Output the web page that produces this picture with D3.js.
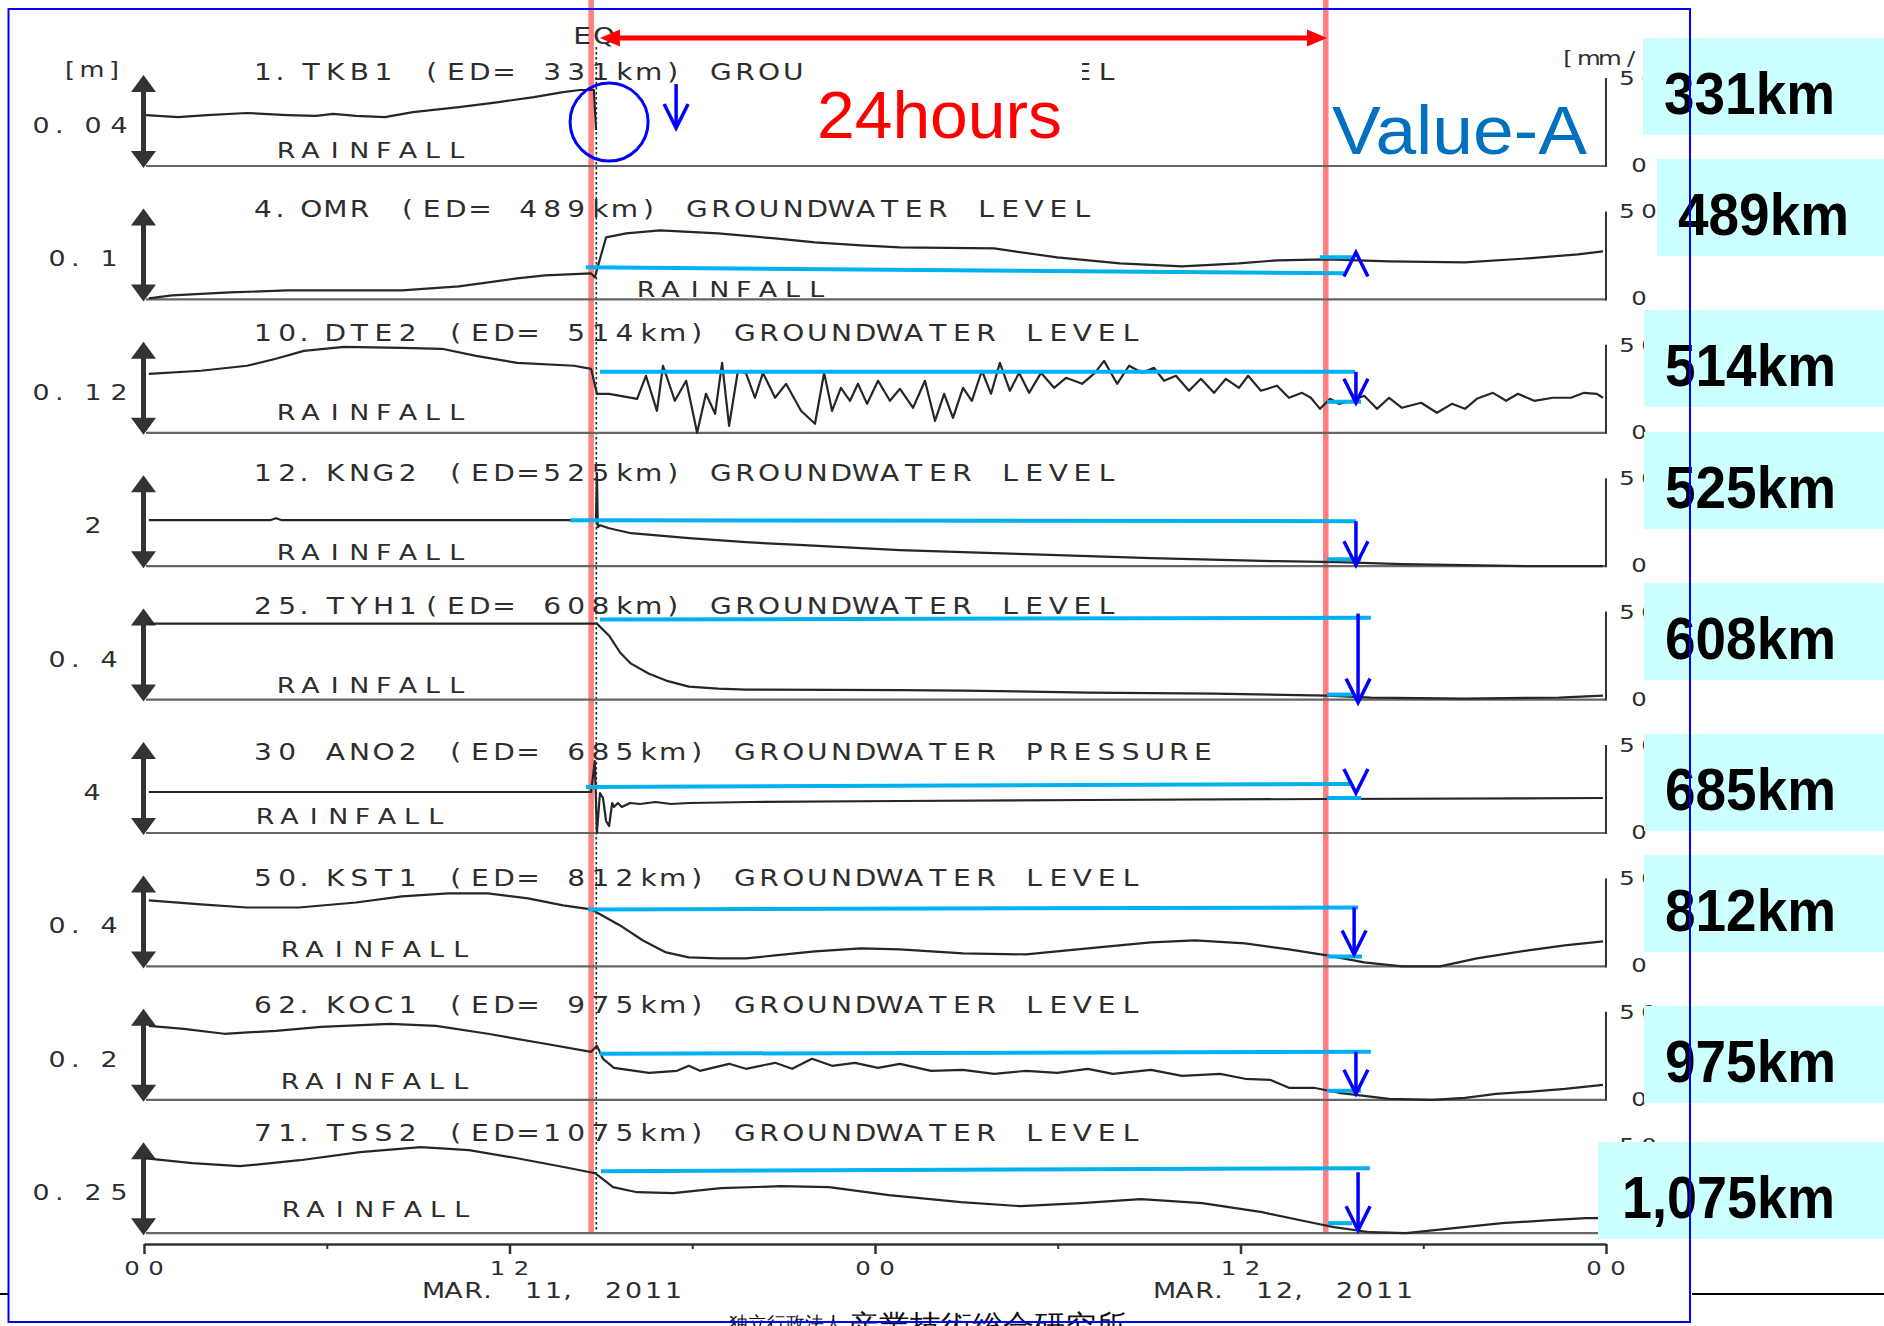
<!DOCTYPE html>
<html>
<head>
<meta charset="utf-8">
<script src="https://cdn.jsdelivr.net/npm/d3@7/dist/d3.min.js"></script>
<style>
  html, body { margin: 0; padding: 0; background: #fff; }
  svg { display: block; }
  text { font-family: "Liberation Sans", Arial, sans-serif; }
  text.grid { font-family: "DejaVu Sans", "Liberation Sans", sans-serif; }
</style>
</head>
<body>
<svg id="chart" width="1884" height="1326"></svg>
<script>
// ---------------- data ----------------
// Station titles, distance tags and the vertical scale (m) of each trace
const stationTitles = [
  "1. TKB1 (ED= 331km) GROUNDWATER LEVEL",
  "4. OMR (ED= 489km) GROUNDWATER LEVEL",
  "10. DTE2 (ED= 514km) GROUNDWATER LEVEL",
  "12. KNG2 (ED=525km) GROUNDWATER LEVEL",
  "25.  TYH1(ED= 608km) GROUNDWATER LEVEL",
  "30 ANO2 (ED= 685km) GROUNDWATER PRESSURE",
  "50. KST1 (ED= 812km) GROUNDWATER LEVEL",
  "62. KOC1 (ED= 975km) GROUNDWATER LEVEL",
  "71. TSS2 (ED=1075km) GROUNDWATER LEVEL"
];
const distanceLabels = ["331km", "489km", "514km", "525km", "608km", "685km", "812km", "975km", "1,075km"];
const scaleValues = [0.04, 0.1, 0.12, 2, 0.4, 4, 0.4, 0.2, 0.25];
const scaleLabels = ["0. 04", "0. 1", "0. 12", "2", "0. 4", "4", "0. 4", "0. 2", "0. 25"];
const rainTicks = ["50", "0"];

// Water level traces: [hours since 00:00 Mar 11, level (m) above panel floor]
const tkb1 = [[0.07,0.0224],[1.12,0.0215],[2.07,0.0224],[3.38,0.0233],[4.70,0.0224],[5.65,0.0220],[6.21,0.0229],
  [6.96,0.0220],[7.91,0.0215],[8.83,0.0237],[10.34,0.0259],[11.65,0.0281],[12.80,0.0303],[13.76,0.0325],
  [14.31,0.0334],[14.77,0.0334],[14.84,0.0158]];

const omr = [[0.16,0.0011],[0.92,0.0044],[2.82,0.0077],[4.70,0.0099],[6.57,0.0099],[8.47,0.0099],[10.34,0.0143],
  [12.25,0.0231],[13.17,0.0264],[14.68,0.0286],[14.80,0.0242],[15.17,0.0681],[15.83,0.0725],[16.94,0.0758],
  [18.85,0.0725],[20.72,0.0670],[22.03,0.0626],[23.54,0.0593],[24.82,0.0571],[27.91,0.0560],[29.98,0.0462],
  [32.04,0.0396],[34.08,0.0363],[35.95,0.0396],[37.20,0.0429],[38.84,0.0440],[40.88,0.0418],[43.37,0.0407],
  [45.44,0.0451],[47.08,0.0495],[47.90,0.0527]];

const dte2 = [[0.16,0.0778],[1.87,0.0818],[3.38,0.0884],[4.33,0.0976],[5.25,0.1081],[6.57,0.1134],[8.47,0.1121],
  [9.78,0.1108],[10.90,0.1015],[12.25,0.0923],[14.12,0.0884],[14.68,0.0844],[14.87,0.0514],[15.27,0.0514],
  [16.19,0.0448],[16.48,0.0752],[16.84,0.0290],[17.04,0.0884],[17.43,0.0422],[17.80,0.0686],[18.16,0.0000],
  [18.45,0.0514],[18.75,0.0251],[18.98,0.0923],[19.21,0.0092],[19.50,0.0818],[19.76,0.0791],[20.06,0.0462],
  [20.32,0.0791],[20.72,0.0462],[21.08,0.0646],[21.57,0.0290],[22.03,0.0119],[22.33,0.0791],[22.59,0.0290],
  [22.88,0.0593],[23.18,0.0422],[23.44,0.0646],[23.74,0.0382],[24.10,0.0686],[24.49,0.0422],[24.82,0.0580],
  [25.25,0.0330],[25.64,0.0686],[25.97,0.0158],[26.27,0.0514],[26.56,0.0198],[26.89,0.0593],[27.18,0.0422],
  [27.51,0.0818],[27.81,0.0514],[28.10,0.0923],[28.43,0.0554],[28.73,0.0791],[29.06,0.0527],[29.45,0.0791],
  [29.88,0.0593],[30.27,0.0725],[30.80,0.0646],[31.22,0.0791],[31.52,0.0949],[31.95,0.0646],[32.34,0.0884],
  [32.77,0.0791],[33.16,0.0857],[33.49,0.0686],[33.88,0.0752],[34.31,0.0554],[34.70,0.0712],[35.13,0.0527],
  [35.52,0.0712],[35.95,0.0593],[36.25,0.0752],[36.67,0.0554],[37.20,0.0620],[37.59,0.0462],[38.02,0.0527],
  [38.31,0.0462],[38.61,0.0316],[38.94,0.0448],[39.23,0.0382],[39.66,0.0422],[40.06,0.0488],[40.48,0.0316],
  [40.88,0.0462],[41.30,0.0330],[41.93,0.0396],[42.45,0.0264],[42.94,0.0382],[43.37,0.0316],[43.76,0.0448],
  [44.29,0.0527],[44.72,0.0422],[45.11,0.0514],[45.64,0.0422],[46.26,0.0462],[46.85,0.0462],[47.28,0.0527],
  [47.70,0.0514],[47.90,0.0462]];

const kng2 = [[0.16,1.011],[4.14,1.011],[4.33,1.055],[4.53,1.011],[14.68,1.011],[14.84,1.011],[14.87,2.044],
  [14.90,0.857],[14.97,0.901],[15.27,0.835],[15.99,0.725],[17.89,0.615],[19.76,0.527],[21.67,0.462],
  [23.54,0.396],[24.82,0.352],[28.96,0.264],[33.06,0.176],[37.20,0.110],[39.23,0.088],[41.30,0.044],
  [45.44,0.0],[47.90,0.0]];

const tyh1 = [[0.16,0.334],[14.68,0.334],[14.87,0.334],[15.27,0.281],[15.63,0.207],[15.99,0.158],[16.58,0.114],
  [17.14,0.0835],[17.89,0.0571],[18.85,0.0484],[19.76,0.0440],[24.82,0.0418],[26.89,0.0396],[30.99,0.0308],
  [35.13,0.0264],[38.84,0.0176],[40.28,0.0088],[43.37,0.0044],[46.46,0.0088],[47.90,0.0176]];

const ano2 = [[0.16,1.802],[14.68,1.802],[14.80,3.165],[14.87,0.0],[14.97,1.758],[15.07,1.538],[15.17,0.527],
  [15.27,0.308],[15.37,1.319],[15.43,1.143],[15.56,1.319],[15.69,1.143],[15.96,1.319],[16.28,1.275],
  [16.80,1.363],[17.30,1.275],[17.89,1.319],[19.90,1.363],[24.82,1.407],[30.99,1.451],[38.84,1.495],[47.90,1.538]];

const kst1 = [[0.16,0.290],[1.87,0.273],[3.38,0.259],[5.09,0.259],[6.96,0.281],[8.47,0.308],[9.98,0.321],
  [11.29,0.321],[12.61,0.299],[13.76,0.268],[14.68,0.251],[14.87,0.237],[15.63,0.180],[16.38,0.114],
  [17.14,0.0615],[17.89,0.0396],[18.85,0.0352],[19.76,0.0352],[20.72,0.0484],[22.03,0.0659],[23.54,0.0791],
  [24.82,0.0747],[26.89,0.0571],[28.96,0.0527],[30.99,0.0791],[33.06,0.1055],[34.51,0.1143],[36.15,0.1011],
  [37.59,0.0747],[38.84,0.0484],[40.06,0.0176],[41.30,0.0],[42.55,0.0],[43.76,0.0352],[45.44,0.0703],
  [46.65,0.0923],[47.90,0.1099]];

const koc1 = [[0.16,0.1626],[1.31,0.1560],[2.63,0.1451],[4.33,0.1516],[5.81,0.1604],[8.08,0.1670],[9.59,0.1626],
  [11.29,0.1451],[13.17,0.1231],[14.68,0.1055],[14.87,0.1187],[15.07,0.0901],[15.43,0.0703],[16.58,0.0593],
  [17.50,0.0637],[17.89,0.0747],[18.25,0.0637],[19.21,0.0791],[19.76,0.0681],[20.72,0.0813],[21.28,0.0681],
  [21.93,0.0901],[22.59,0.0747],[23.34,0.0813],[24.10,0.0703],[24.82,0.0791],[25.84,0.0637],[26.89,0.0659],
  [27.91,0.0571],[28.96,0.0637],[29.98,0.0593],[30.99,0.0681],[31.81,0.0571],[33.06,0.0659],[34.08,0.0527],
  [35.33,0.0571],[36.15,0.0462],[36.97,0.0440],[37.59,0.0264],[38.41,0.0264],[39.23,0.0154],[40.06,0.0088],
  [40.88,0.0022],[42.32,0.0],[43.37,0.0044],[44.39,0.0132],[45.44,0.0176],[46.65,0.0242],[47.90,0.0330]];

const tss2 = [[0.00,0.2060],[1.58,0.1923],[3.15,0.1841],[5.12,0.2005],[7.09,0.2225],[9.09,0.2363],[10.67,0.2280],
  [12.25,0.2060],[13.82,0.1813],[14.81,0.1648],[15.40,0.1264],[16.19,0.1126],[17.37,0.1099],[18.94,0.1236],
  [20.91,0.1291],[22.49,0.1264],[24.46,0.1044],[26.82,0.0852],[28.79,0.0742],[30.76,0.0824],[32.73,0.0934],
  [34.74,0.0824],[36.71,0.0577],[38.28,0.0302],[39.07,0.0165],[40.25,0.0027],[41.43,0.0],[43.01,0.0137],
  [44.59,0.0275],[46.16,0.0357],[47.34,0.0412],[47.74,0.0412]];

const levelSeries = [tkb1, omr, dte2, kng2, tyh1, ano2, kst1, koc1, tss2];

// Time axis
const majorTicks = [0, 12, 24, 36, 48];
const majorTickLabels = ["00", "12", "00", "12", "00"];
const minorTicks = [6, 18, 30, 42];
const dateLabels = [[12, "MAR. 11, 2011"], [36, "MAR. 12, 2011"]];

// Earthquake time and the 24 h window markers (hours)
const eqHour = 14.85;
const markerHours = [14.68, 38.8];
const windowArrow = [14.97, 38.84];

// Pre-quake level guides [h0, h1, v0, v1], level 24 h later [h0, h1, v], change arrows [h, from, to]
const preLevels = [null, [14.51,39.43,0.0352,0.0286], [14.97,39.76,0.0804,0.0804], [13.99,39.79,1.011,0.989],
  [14.97,40.28,0.352,0.360], [14.51,39.66,2.022,2.154], [14.58,39.86,0.2505,0.2593], [14.97,40.28,0.1011,0.1055],
  [15.00,40.25,0.1703,0.1786]];
const laterLevels = [null, [38.61,39.66,0.0462], [38.84,39.96,0.0409], [38.84,39.96,0.154], [38.84,39.66,0.022],
  [38.84,39.96,1.538], [38.84,39.99,0.044], [38.84,39.96,0.0198], [38.87,39.66,0.0275]];
const changeArrows = [[17.47,0.0360,0.0167], [39.79,0.0231,0.0516], [39.79,0.0804,0.0396], [39.79,0.989,0.022],
  [39.86,0.378,-0.0132], [39.79,2.813,1.758], [39.73,0.2593,0.0527], [39.79,0.1055,0.0132], [39.86,0.1676,0.0082]];
const quakeRing = [15.27, 0.0193];

// ---------------- layout ----------------
const W = 1884, H = 1326;
const panelTop = 166, panelStep = 133.4, panelSpan = 91;
const titleRise = [86, 82, 92, 85, 86, 73, 80, 87, 92];
const rainPos = [[286, 8], [646, 2], [286, 13], [286, 6], [286, 7], [265, 9], [290, 9], [290, 11], [291, 16]];
const scaleLabelX = [41, 57, 41, 93, 57, 92, 57, 57, 41];
const boxLeft = [1643, 1657, 1644, 1644, 1644, 1644, 1644, 1644, 1598];
const boxTop = [38, 159, 310, 432, 583, 734, 855, 1006, 1142];
const GLYPH_STRETCH = 1.22;

const TEXT = "#2e2e2e";
const CYAN = "#00B0F0";
const BLUE = "#0000FF";

const svg = d3.select("#chart");
const x = d3.scaleLinear().domain([0, 48]).range([144, 1606]);
const baseY = i => panelTop + i * panelStep;
const yOf = i => d3.scaleLinear().domain([0, scaleValues[i]]).range([baseY(i), baseY(i) - panelSpan]);

// Text laid out on a fixed character grid (plotter style lettering, wide glyphs);
// a period or comma hugs the character before it.
function gridText(parent, str, cx0, adv, y, tight) {
  const s = GLYPH_STRETCH;
  const xs = [];
  let idx = 0, prev = "";
  for (const c of str) {
    if (tight && c === " " && prev === ".") xs.push(cx0 + (idx - 0.5) * adv);
    else {
      const nudge = (c === "." || c === ",") ? -0.3 * adv : 0;
      xs.push(cx0 + idx * adv + nudge);
      idx++;
    }
    prev = c;
  }
  return parent.append("text")
    .attr("class", "grid")
    .attr("transform", `scale(${s},1)`)
    .attr("x", xs.map(v => (v / s).toFixed(2)).join(" "))
    .attr("y", y)
    .attr("text-anchor", "middle")
    .attr("fill", TEXT)
    .text(str);
}

function blueArrow(parent, ax, y1, y2) {
  const dir = Math.sign(y2 - y1);
  if (Math.abs(y2 - y1) > 26) {
    parent.append("line").attr("x1", ax).attr("x2", ax).attr("y1", y1).attr("y2", y2)
      .attr("stroke", BLUE).attr("stroke-width", 3.5);
  }
  parent.append("path")
    .attr("d", `M${ax - 12},${y2 - dir * 24}L${ax},${y2}L${ax + 12},${y2 - dir * 24}`)
    .attr("fill", "none").attr("stroke", BLUE).attr("stroke-width", 3.5)
    .attr("stroke-linejoin", "miter");
}

svg.append("rect").attr("width", W).attr("height", H).attr("fill", "#fff");

// 24 h window marker lines
svg.selectAll("line.marker").data(markerHours).enter().append("line")
  .attr("class", "marker")
  .attr("x1", d => x(d)).attr("x2", d => x(d))
  .attr("y1", 0).attr("y2", baseY(8))
  .attr("stroke", "#FF7F7F").attr("stroke-width", 5.5);

// Earthquake time (dotted)
svg.append("line")
  .attr("x1", x(eqHour)).attr("x2", x(eqHour))
  .attr("y1", 47).attr("y2", baseY(8))
  .attr("stroke", "#222").attr("stroke-width", 1.6).attr("stroke-dasharray", "2.5,2.5");

// ---------------- panels ----------------
const line = d3.line();
levelSeries.forEach((data, i) => {
  const y = yOf(i), b = baseY(i);
  const g = svg.append("g").attr("class", "panel");

  g.append("line").attr("x1", 146).attr("x2", x(48)).attr("y1", b).attr("y2", b)
    .attr("stroke", "#666").attr("stroke-width", 2.2);
  g.append("line").attr("x1", x(48)).attr("x2", x(48)).attr("y1", b - 88).attr("y2", b + 1)
    .attr("stroke", "#333").attr("stroke-width", 2);

  // double-headed scale arrow
  const top = y(scaleValues[i]), bot = b + 2, ax = 143.5;
  g.append("line").attr("x1", ax).attr("x2", ax).attr("y1", top + 12).attr("y2", bot - 12)
    .attr("stroke", "#333").attr("stroke-width", 5);
  g.append("path").attr("d", `M${ax},${top}L${ax + 12.5},${top + 17}L${ax - 12.5},${top + 17}Z`).attr("fill", "#333");
  g.append("path").attr("d", `M${ax},${bot}L${ax + 12.5},${bot - 17}L${ax - 12.5},${bot - 17}Z`).attr("fill", "#333");

  gridText(g, scaleLabels[i], scaleLabelX[i], 26, b - 33, true).attr("font-size", 22);
  gridText(g, stationTitles[i], 263, 24.1, b - titleRise[i], true).attr("font-size", 23);
  gridText(g, "RAINFALL", rainPos[i][0], 24.4, b - rainPos[i][1], false).attr("font-size", 22);

  gridText(g, rainTicks[0], 1627, 22, b - 81, false).attr("font-size", 20);
  gridText(g, rainTicks[1], 1639, 22, b + 6, false).attr("font-size", 20);

  g.append("path")
    .attr("d", line.x(d => x(d[0])).y(d => y(d[1]))(data))
    .attr("fill", "none").attr("stroke", "#262626").attr("stroke-width", 2.2)
    .attr("stroke-linejoin", "round");
});

// unit labels
gridText(svg, "[m]", 70, 22, 77, false).attr("font-size", 21);
gridText(svg, "[mm/h]", 1568, 21, 65, false).attr("font-size", 20);

// ---------------- level change annotations ----------------
const ann = svg.append("g").attr("class", "annotations");
levelSeries.forEach((_, i) => {
  const y = yOf(i);
  if (preLevels[i]) {
    const [h0, h1, v0, v1] = preLevels[i];
    ann.append("line").attr("x1", x(h0)).attr("x2", x(h1)).attr("y1", y(v0)).attr("y2", y(v1))
      .attr("stroke", CYAN).attr("stroke-width", 4);
  }
  if (laterLevels[i]) {
    const [h0, h1, v] = laterLevels[i];
    ann.append("line").attr("x1", x(h0)).attr("x2", x(h1)).attr("y1", y(v)).attr("y2", y(v))
      .attr("stroke", CYAN).attr("stroke-width", 4);
  }
  const [h, v0, v1] = changeArrows[i];
  blueArrow(ann, x(h), y(v0), y(v1));
});
ann.append("circle")
  .attr("cx", x(quakeRing[0])).attr("cy", yOf(0)(quakeRing[1])).attr("r", 39)
  .attr("fill", "none").attr("stroke", BLUE).attr("stroke-width", 3);

// headline labels over the first panel
svg.append("rect").attr("x", 806).attr("y", 50).attr("width", 276).attr("height", 96).attr("fill", "#fff");
svg.append("text").attr("x", 817).attr("y", 138).attr("font-size", 66).attr("fill", "#FF0000")
  .attr("textLength", 245).attr("lengthAdjust", "spacingAndGlyphs").text("24hours");
svg.append("text").attr("x", 1332).attr("y", 154).attr("font-size", 68).attr("fill", "#0070C0")
  .attr("textLength", 255).attr("lengthAdjust", "spacingAndGlyphs").text("Value-A");

gridText(svg, "EQ", 582, 22, 44, false).attr("font-size", 23);

// 24 h span arrow
const ax0 = x(windowArrow[0]), ax1 = x(windowArrow[1]), ay = 38;
svg.append("line").attr("x1", ax0 + 16).attr("x2", ax1 - 16).attr("y1", ay).attr("y2", ay)
  .attr("stroke", "#FF0000").attr("stroke-width", 5);
svg.append("path").attr("d", `M${ax0},${ay}L${ax0 + 20},${ay - 8.5}L${ax0 + 20},${ay + 8.5}Z`).attr("fill", "#FF0000");
svg.append("path").attr("d", `M${ax1},${ay}L${ax1 - 20},${ay - 8.5}L${ax1 - 20},${ay + 8.5}Z`).attr("fill", "#FF0000");

// ---------------- distance tags ----------------
distanceLabels.forEach((lab, i) => {
  svg.append("rect").attr("x", boxLeft[i]).attr("y", boxTop[i])
    .attr("width", W - boxLeft[i]).attr("height", 97).attr("fill", "#CCFFFF");
  svg.append("text").attr("x", boxLeft[i] + (lab.length > 5 ? 24 : 21)).attr("y", boxTop[i] + 76)
    .attr("font-size", 60).attr("font-weight", "bold").attr("fill", "#000")
    .attr("textLength", lab.length > 5 ? 213 : 171).attr("lengthAdjust", "spacingAndGlyphs")
    .text(lab);
});

// ---------------- time axis ----------------
const axisY = 1244;
const gAxis = svg.append("g").attr("transform", `translate(0,${axisY})`)
  .call(d3.axisBottom(x).tickValues(majorTicks).tickSize(10).tickSizeOuter(0).tickFormat(() => ""));
gAxis.select(".domain").attr("stroke", "#333").attr("stroke-width", 2.5);
gAxis.selectAll(".tick line").attr("stroke", "#333").attr("stroke-width", 2.5);
const gMinor = svg.append("g").attr("transform", `translate(0,${axisY})`)
  .call(d3.axisBottom(x).tickValues(minorTicks).tickSize(5).tickSizeOuter(0).tickFormat(() => ""));
gMinor.select(".domain").remove();
gMinor.selectAll(".tick line").attr("stroke", "#333").attr("stroke-width", 2);

majorTicks.forEach((t, k) => {
  gridText(svg, majorTickLabels[k], x(t) - 12, 24, 1275, false).attr("font-size", 20);
});
dateLabels.forEach(([h, s]) => {
  gridText(svg, s, x(h) - 76, 20, 1298, false).attr("font-size", 22);
});

// institution credit along the bottom edge
svg.append("text").attr("x", 729).attr("y", 1330).attr("font-family", "Noto Sans CJK JP")
  .attr("font-size", 19).attr("fill", "#111").text("独立行政法人");
svg.append("text").attr("x", 848).attr("y", 1337).attr("font-family", "Noto Sans CJK JP")
  .attr("font-size", 31).attr("fill", "#111").text("産業技術総合研究所");

// frame and slide rule lines
svg.append("line").attr("x1", 0).attr("x2", 8).attr("y1", 1294).attr("y2", 1294).attr("stroke", "#000").attr("stroke-width", 2);
svg.append("line").attr("x1", 1692).attr("x2", W).attr("y1", 1294).attr("y2", 1294).attr("stroke", "#000").attr("stroke-width", 2);
svg.append("rect").attr("x", 8.5).attr("y", 9).attr("width", 1690 - 8.5).attr("height", 1322 - 9)
  .attr("fill", "none").attr("stroke", "#0000FF").attr("stroke-width", 2);
</script>
</body>
</html>
